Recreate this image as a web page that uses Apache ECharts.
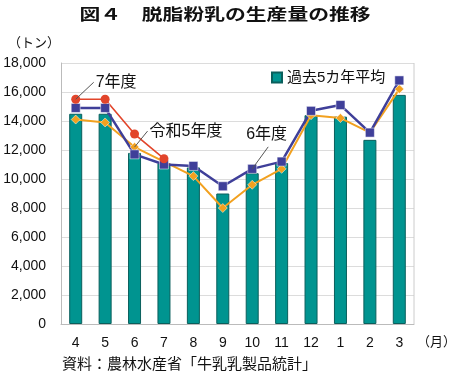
<!DOCTYPE html>
<html><head><meta charset="utf-8">
<script src="https://cdn.jsdelivr.net/npm/echarts@6/dist/echarts.min.js"></script>
<style>html,body{margin:0;padding:0;background:#fff}#c{width:450px;height:377px}</style>
</head><body><div id="c"></div>
<script>
const months = ['4','5','6','7','8','9','10','11','12','1','2','3'];
const avg5 = [14500,14500,11800,11100,10800,9000,10400,11100,14400,14300,12700,15800];
const r7 = [15500,15500,13100,11400,null,null,null,null,null,null,null,null];
const r6 = [14900,14900,11700,11000,10900,9500,10700,11200,14700,15100,13200,16800];
const r5 = [14100,13900,12200,11200,10200,8000,9600,10700,14400,14200,13200,16200];
const yTicks = [0,2000,4000,6000,8000,10000,12000,14000,16000,18000];

const FONT = '"Liberation Sans","Noto Sans CJK JP",sans-serif';
const chart = echarts.init(document.getElementById('c'));
chart.setOption({
  animation:false,
  textStyle:{fontFamily:FONT},
  grid:{left:61,right:36,top:63,bottom:53},
  legend:{data:['過去5カ年平均'],left:266,top:65,icon:'rect',itemWidth:10,itemHeight:10,itemGap:4,
    textStyle:{fontFamily:FONT,fontSize:15,color:'#111'}},
  xAxis:{type:'category',data:months,
    axisLine:{lineStyle:{color:'#bbb'}},axisTick:{show:false},
    axisLabel:{color:'#111',fontSize:14,margin:12,fontFamily:FONT}},
  yAxis:{type:'value',min:yTicks[0],max:yTicks[yTicks.length-1],interval:2000,
    axisLine:{show:true,lineStyle:{color:'#bbb'}},axisTick:{show:false},
    splitLine:{lineStyle:{color:'#dcdcdc'}},
    axisLabel:{color:'#111',fontSize:14,margin:15,fontFamily:FONT,
      formatter:v=>v.toLocaleString('en-US')}},
  series:[
    {name:'過去5カ年平均',type:'bar',data:avg5,barWidth:13,
      itemStyle:{color:'#009490',borderColor:'#0a5f5c',borderWidth:1}},
    {name:'令和5年度',type:'line',data:r5,symbol:'diamond',symbolSize:9,
      lineStyle:{color:'#f2a11f',width:2},itemStyle:{color:'#f2a11f',borderColor:'#fff',borderWidth:0.5}},
    {name:'6年度',type:'line',data:r6,symbol:'rect',symbolSize:9,
      lineStyle:{color:'#3f3f99',width:2.5},itemStyle:{color:'#3f3f99',borderColor:'#fff',borderWidth:0.5}},
    {name:'7年度',type:'line',data:r7,symbol:'circle',symbolSize:9,
      lineStyle:{color:'#e2452b',width:1.6},itemStyle:{color:'#e2452b'}}
  ]
});

function ann(seriesIndex, idx, val, dx, dy, text, tdx, tdy){
  const p = chart.convertToPixel({seriesIndex}, [idx, val]);
  const x2 = p[0]+dx, y2 = p[1]+dy;
  return [
    {type:'line',shape:{x1:p[0],y1:p[1],x2:x2,y2:y2},style:{stroke:'#555',lineWidth:1},z:20},
    {type:'text',x:x2+2+(tdx||0),y:y2+(tdy||0),style:{text,fontSize:16,fontFamily:FONT,fill:'#111',verticalAlign:'middle'},z:20}
  ];
}
const g = [].concat(
  ann(3,0,r7[0],18,-17,'7年度'),
  ann(1,2,r5[2],13,-16,'令和5年度'),
  ann(2,6,r6[6],16,-22,'6年度',-24,-12),
  [
    {type:'text',x:225,y:14,scaleX:1.3,originX:0,originY:0,
      style:{text:'図４　脱脂粉乳の生産量の推移',fontSize:16,fontWeight:'bold',
        fontFamily:'"Noto Sans CJK JP",sans-serif',fill:'#111',align:'center',verticalAlign:'middle'}},
    {type:'text',x:8,y:37,style:{text:'（トン）',fontSize:13,fontFamily:FONT,fill:'#111'}},
    {type:'text',x:417,y:336,style:{text:'（月）',fontSize:13,fontFamily:FONT,fill:'#111'}},
    {type:'text',x:62,y:357,style:{text:'資料：農林水産省「牛乳乳製品統計」',fontSize:15,fontFamily:FONT,fill:'#111'}},
    {type:'line',shape:{x1:414,y1:63,x2:414,y2:324},style:{stroke:'#ccc',lineWidth:1}}
  ]
);
chart.setOption({graphic:g});
</script></body></html>
